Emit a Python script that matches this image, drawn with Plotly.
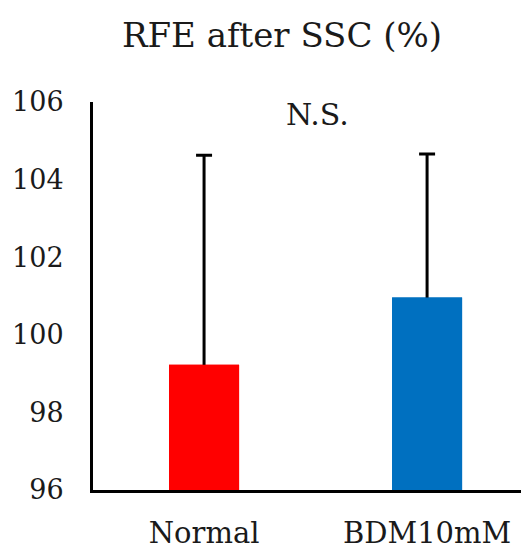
import plotly.graph_objects as go

categories = ["Normal", "BDM10mM"]
means = [99.23, 100.96]
upper_err = [5.40, 3.70]
colors = ["#FF0000", "#0070C0"]
y_ticks = [96, 98, 100, 102, 104, 106]

FONT = "DejaVu Serif"
TXT = "#1a1a1a"
OFF = 8  # page body margin
W, H = 529 - OFF, 545 - OFF

fig = go.Figure()
# error bars drawn symmetric; lower half hidden under the bar drawn on top
fig.add_trace(go.Bar(
    x=categories, y=means,
    marker=dict(color=colors, line=dict(width=0)),
    width=0.314,
    error_y=dict(type="data", symmetric=True, array=upper_err,
                 color="black", thickness=3, width=8),
))
fig.add_trace(go.Bar(
    x=categories, y=means,
    marker=dict(color=colors, line=dict(width=0)),
    width=0.314,
))

fig.update_layout(
    width=W, height=H,
    margin=dict(l=93 - OFF, r=0, t=102 - OFF, b=55, autoexpand=False),
    barmode="overlay",
    paper_bgcolor="white", plot_bgcolor="white",
    showlegend=False,
    font=dict(family=FONT, color=TXT),
    title=dict(text="RFE after SSC (%)", x=(282 - OFF)/W, xref="container", xanchor="center",
               y=1-(35 - OFF)/H, yref="container", yanchor="middle",
               font=dict(family=FONT, size=34, color=TXT)),
    xaxis=dict(range=[-0.498, 1.457], showline=True, linecolor="black", linewidth=3,
               ticks="", showgrid=False, zeroline=False, automargin=False,
               tickfont=dict(family=FONT, size=29, color=TXT),
               ticklabelstandoff=15),
    yaxis=dict(range=[96, 106], tickvals=y_ticks, showline=True, linecolor="black",
               linewidth=3, ticks="", showgrid=False, zeroline=False, automargin=False,
               tickfont=dict(family=FONT, size=27, color=TXT),
               ticklabelstandoff=21),
    annotations=[dict(text="N.S.", x=(317-93)/436, y=(490-114)/388, xref="paper", yref="paper",
                      xanchor="center", yanchor="middle", showarrow=False,
                      font=dict(family=FONT, size=30, color=TXT))],
)

fig.write_html("out.html")
